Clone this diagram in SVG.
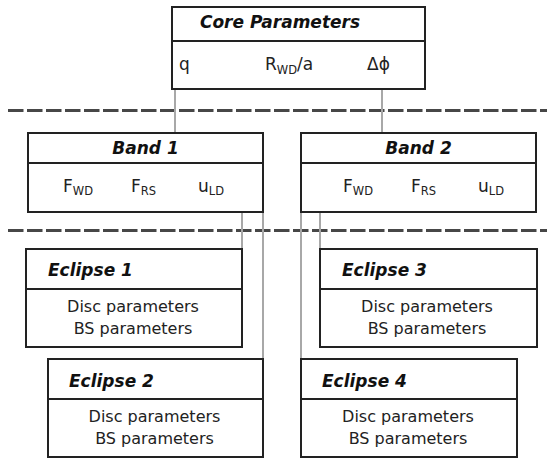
<svg xmlns="http://www.w3.org/2000/svg" width="547" height="458" viewBox="0 0 547 458">
  <style>
    .box { fill: #ffffff; stroke: #222222; stroke-width: 2; }
    .div { stroke: #222222; stroke-width: 2; }
    .sep { stroke: #474747; stroke-width: 3; stroke-dasharray: 15.5 3.5; }
    .link { stroke: #a8a8a8; stroke-width: 2; fill: none; }
    .title { font-family: "DejaVu Sans", Verdana, sans-serif; font-weight: bold; font-style: italic; font-size: 17px; fill: #111111; }
    .param { font-family: "DejaVu Sans", Verdana, sans-serif; font-size: 17px; fill: #222222; }
    .sub { font-size: 11.5px; }
    .body { font-family: "DejaVu Sans", Verdana, sans-serif; font-size: 16px; fill: #222222; text-anchor: middle; }
  </style>

  <rect width="547" height="458" fill="#ffffff"/>

  <!-- level separators -->
  <g id="separators">
    <line class="sep" x1="8" y1="110.5" x2="547" y2="110.5"/>
    <line class="sep" x1="8" y1="230.5" x2="547" y2="230.5"/>
  </g>

  <!-- connectors -->
  <g id="connectors">
    <line class="link" x1="175" y1="89" x2="175" y2="133"/>
    <line class="link" x1="382" y1="89" x2="382" y2="133"/>
    <line class="link" x1="242" y1="212" x2="242" y2="249"/>
    <line class="link" x1="263" y1="212" x2="263" y2="359"/>
    <line class="link" x1="301" y1="212" x2="301" y2="359"/>
    <line class="link" x1="320" y1="212" x2="320" y2="249"/>
  </g>

  <!-- core parameters -->
  <g id="core">
    <rect class="box" x="172" y="7" width="253" height="82"/>
    <line class="div" x1="172" y1="41" x2="425" y2="41"/>
    <text class="title" x="280" y="28" text-anchor="middle">Core Parameters</text>
    <text class="param" x="179" y="70">q</text>
    <text class="param" x="265" y="70">R<tspan class="sub" dy="3.5">WD</tspan><tspan dy="-3.5">/a</tspan></text>
    <text class="param" x="367" y="70">Δϕ</text>
  </g>

  <!-- band 1 -->
  <g id="band1">
    <rect class="box" x="28" y="133" width="235" height="79"/>
    <line class="div" x1="28" y1="163" x2="263" y2="163"/>
    <text class="title" x="145.5" y="154" text-anchor="middle">Band 1</text>
    <text class="param" x="63" y="191.5">F<tspan class="sub" dy="3.5">WD</tspan></text>
    <text class="param" x="131" y="191.5">F<tspan class="sub" dy="3.5">RS</tspan></text>
    <text class="param" x="198" y="191.5">u<tspan class="sub" dy="3.5">LD</tspan></text>
  </g>

  <!-- band 2 -->
  <g id="band2">
    <rect class="box" x="301" y="133" width="235" height="79"/>
    <line class="div" x1="301" y1="163" x2="536" y2="163"/>
    <text class="title" x="418.5" y="154" text-anchor="middle">Band 2</text>
    <text class="param" x="343" y="191.5">F<tspan class="sub" dy="3.5">WD</tspan></text>
    <text class="param" x="411" y="191.5">F<tspan class="sub" dy="3.5">RS</tspan></text>
    <text class="param" x="478" y="191.5">u<tspan class="sub" dy="3.5">LD</tspan></text>
  </g>

  <!-- eclipses -->
  <g id="eclipse1">
    <rect class="box" x="26" y="249" width="216" height="98"/>
    <line class="div" x1="26" y1="289" x2="242" y2="289"/>
    <text class="title" x="48" y="276">Eclipse 1</text>
    <text class="body" x="133" y="312">Disc parameters</text>
    <text class="body" x="133" y="334">BS parameters</text>
  </g>

  <g id="eclipse2">
    <rect class="box" x="48" y="359" width="215" height="98"/>
    <line class="div" x1="48" y1="399" x2="263" y2="399"/>
    <text class="title" x="69" y="386.5">Eclipse 2</text>
    <text class="body" x="154.5" y="422">Disc parameters</text>
    <text class="body" x="154.5" y="444">BS parameters</text>
  </g>

  <g id="eclipse3">
    <rect class="box" x="320" y="249" width="217" height="98"/>
    <line class="div" x1="320" y1="289" x2="537" y2="289"/>
    <text class="title" x="342" y="276">Eclipse 3</text>
    <text class="body" x="427" y="312">Disc parameters</text>
    <text class="body" x="427" y="334">BS parameters</text>
  </g>

  <g id="eclipse4">
    <rect class="box" x="301" y="359" width="216" height="98"/>
    <line class="div" x1="301" y1="399" x2="517" y2="399"/>
    <text class="title" x="322" y="386.5">Eclipse 4</text>
    <text class="body" x="408" y="422">Disc parameters</text>
    <text class="body" x="408" y="444">BS parameters</text>
  </g>
</svg>
